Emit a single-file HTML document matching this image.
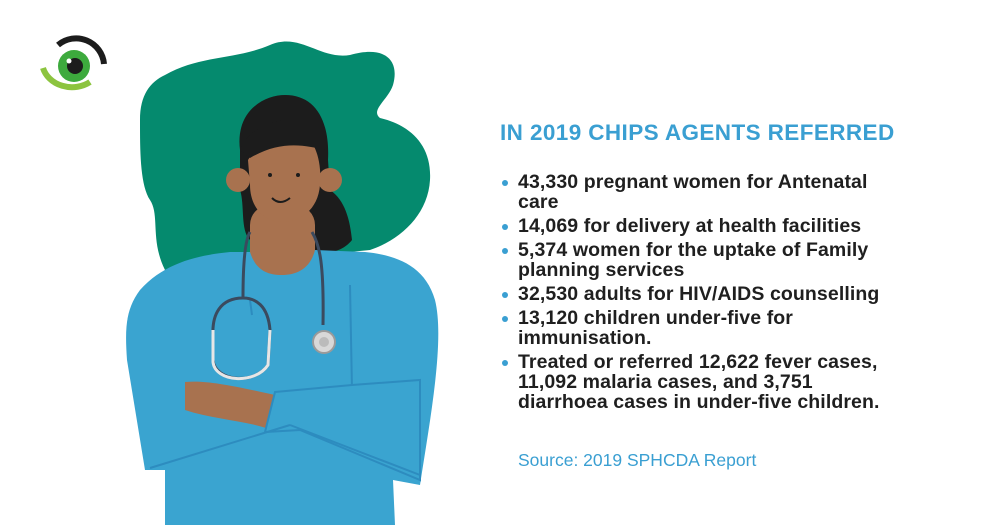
<!DOCTYPE html>
<html><head><meta charset="utf-8"><style>
body{margin:0;width:1000px;height:525px;background:#fff;overflow:hidden;position:relative;font-family:"Liberation Sans",sans-serif}
.t{position:absolute;left:500px;top:120px;font-size:22.5px;font-weight:bold;color:#3a9fd2;letter-spacing:0.4px;white-space:nowrap}
ul{position:absolute;left:500px;top:172px;margin:0;padding:0;list-style:none;width:404px}
li{position:relative;padding-left:18px;font-size:19.5px;font-weight:bold;color:#1f1f1f;line-height:20px;margin-bottom:4px;letter-spacing:0.1px}
li:before{content:"";position:absolute;left:2px;top:8px;width:6px;height:6px;border-radius:50%;background:#3a9fd2}
.s{position:absolute;left:518px;top:450px;font-size:17.5px;color:#3a9fd2}
</style></head><body>
<svg width="480" height="525" style="position:absolute;left:0;top:0">
<g>
<path d="M58 45 A28 28 0 0 1 104 64" stroke="#1c1c1c" stroke-width="6" fill="none"/>
<circle cx="74" cy="66" r="16" fill="#3daa3d"/>
<circle cx="75" cy="66" r="8" fill="#1c1c1c"/>
<circle cx="69" cy="61" r="2.5" fill="#fff"/>
<path d="M43 68 A30 26 0 0 0 90 82" stroke="#8cc43f" stroke-width="6" fill="none"/>
</g>
<path fill="#058a6e" d="M165 75 C200 55 235 60 270 45 C300 32 320 60 350 55 C385 45 400 60 393 85 C388 100 370 110 380 118 C410 125 432 145 430 180 C428 215 400 240 370 250 L165 270 C150 240 160 215 150 200 C140 185 140 150 140 120 C140 95 150 82 165 75Z"/>
<path fill="#1c1c1c" d="M240 150 C235 110 265 95 285 95 C315 95 330 120 328 160 L330 190 C345 200 350 220 352 240 C340 255 320 255 300 250 L250 240 C240 230 245 205 240 190Z"/>
<rect x="250" y="205" width="65" height="70" rx="20" fill="#a8724f"/>
<ellipse cx="238" cy="180" rx="12" ry="12" fill="#a8724f"/>
<ellipse cx="330" cy="180" rx="12" ry="12" fill="#a8724f"/>
<path fill="#a8724f" d="M248 160 C255 148 275 140 300 130 C315 140 322 160 320 185 C318 210 300 222 282 222 C262 222 250 205 250 185Z"/>
<path d="M240 150 C250 125 280 115 320 120 L325 150 C305 145 280 140 250 158Z" fill="#1c1c1c"/>
<circle cx="270" cy="175" r="2" fill="#1c1c1c"/><circle cx="298" cy="175" r="2" fill="#1c1c1c"/>
<path d="M272 198 Q280 206 290 198" stroke="#1c1c1c" stroke-width="2" fill="none"/>
<path fill="#3aa4d0" d="M230 252 C200 255 165 262 140 290 C125 310 125 330 127 360 L145 470 L165 470 L165 525 L395 525 L393 480 L420 485 C430 420 445 340 435 300 C425 265 395 255 365 252 L315 250 C310 270 295 275 282 275 C265 275 255 268 250 252Z"/>
<path d="M250 300 L252 315 M350 285 L352 390" stroke="#2d8cbf" stroke-width="2"/>
<path fill="#a8724f" d="M185 382 C205 380 230 385 275 395 L272 430 C245 420 215 420 185 410 Z"/>
<path fill="#3aa4d0" stroke="#2d8cbf" stroke-width="2" d="M275 392 L352 385 L420 380 L420 480 L300 430 L265 432Z"/>
<path d="M150 468 L290 425 M290 425 L420 475" stroke="#2d8cbf" stroke-width="2" fill="none"/>
<path d="M250 232 C245 240 243 265 243 298 M243 298 C220 298 212 315 213 335 L213 360 C215 382 255 385 268 365 L270 330 C268 305 255 298 243 298 M312 232 C320 245 324 265 323 325" stroke="#3b4a5e" stroke-width="3" fill="none"/>
<path d="M213 330 L213 362 C215 382 255 385 268 365 L270 330" stroke="#e6e6e6" stroke-width="3" fill="none"/>
<circle cx="324" cy="342" r="11" fill="#d8d8d8" stroke="#9a9a9a" stroke-width="2"/>
<circle cx="324" cy="342" r="5" fill="#bbb"/>
</svg>
<div class="t">IN 2019 CHIPS AGENTS REFERRED</div>
<ul>
<li>43,330 pregnant women for Antenatal care</li>
<li>14,069 for delivery at health facilities</li>
<li>5,374 women for the uptake of Family planning services</li>
<li>32,530 adults for HIV/AIDS counselling</li>
<li>13,120 children under-five for immunisation.</li>
<li>Treated or referred 12,622 fever cases, 11,092 malaria cases, and 3,751 diarrhoea cases in under-five children.</li>
</ul>
<div class="s">Source: 2019 SPHCDA Report</div>
</body></html>
